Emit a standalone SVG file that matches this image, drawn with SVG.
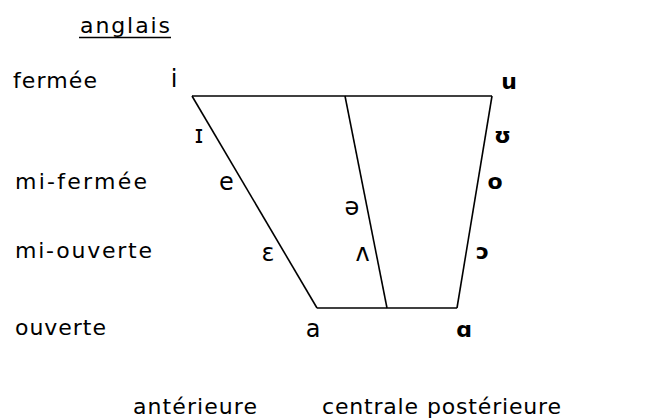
<svg xmlns="http://www.w3.org/2000/svg" width="645" height="420" viewBox="0 0 645 420">
<style>
.lbl{font-family:"DejaVu Sans","Liberation Sans",sans-serif;font-size:22px;fill:#000}
.sym{font-family:"DejaVu Sans","Liberation Sans",sans-serif;font-size:24px;fill:#000;text-anchor:middle}
.b{font-weight:bold;font-size:22px}
.edge{stroke:#000;stroke-width:1.6;fill:none}
</style>
<rect width="645" height="420" fill="#fff"/>
<g id="title">
<text class="lbl" x="80" y="33" font-size="18" textLength="90" lengthAdjust="spacing">anglais</text>
<line x1="79" y1="37.5" x2="171" y2="37.5" stroke="#000" stroke-width="1.5"/>
</g>
<g id="rows">
<text class="lbl" x="13" y="88" textLength="84" lengthAdjust="spacing">fermée</text>
<text class="lbl" x="15" y="189" textLength="132" lengthAdjust="spacing">mi-fermée</text>
<text class="lbl" x="15" y="258" textLength="137" lengthAdjust="spacing">mi-ouverte</text>
<text class="lbl" x="15" y="335" textLength="91" lengthAdjust="spacing">ouverte</text>
</g>
<g id="columns">
<text class="lbl" x="133" y="414" textLength="124" lengthAdjust="spacing">antérieure</text>
<text class="lbl" x="322" y="414" textLength="96" lengthAdjust="spacing">centrale</text>
<text class="lbl" x="427" y="414" textLength="134" lengthAdjust="spacing">postérieure</text>
</g>
<g id="connectors">
<line class="edge" x1="192" y1="96" x2="492" y2="96" stroke="#222" stroke-width="2"/>
<line class="edge" x1="192" y1="96" x2="317" y2="308"/>
<line class="edge" x1="317" y1="308" x2="457" y2="308"/>
<line class="edge" x1="492" y1="96" x2="457" y2="308"/>
<line class="edge" x1="345" y1="96" x2="387" y2="308"/>
</g>
<g id="front">
<text class="sym" x="174" y="87">i</text>
<text class="sym" x="199" y="143" font-size="29">ɪ</text>
<text class="sym" x="226.5" y="190">e</text>
<text class="sym" x="268" y="261">ɛ</text>
<text class="sym" x="313" y="337">a</text>
</g>
<g id="central">
<text class="sym" x="352" y="215">ə</text>
<text class="sym" x="362.5" y="261">ʌ</text>
</g>
<g id="back">
<text class="sym b" x="509" y="89">u</text>
<text class="sym b" x="502.5" y="143" font-size="28">ʊ</text>
<text class="sym b" x="495" y="189">o</text>
<text class="sym b" x="482.5" y="259">ɔ</text>
<text class="sym b" x="464" y="337">ɑ</text>
</g>
</svg>
